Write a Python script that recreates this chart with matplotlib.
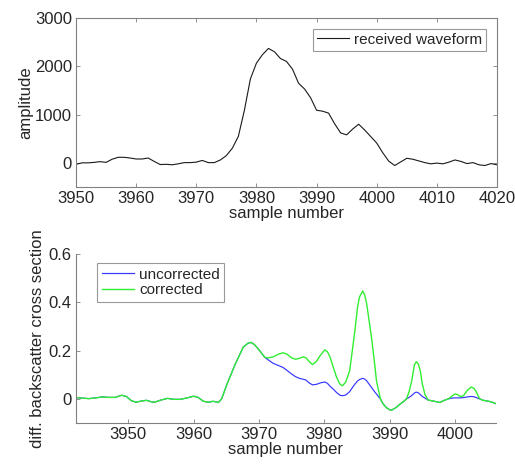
import matplotlib
matplotlib.use("Agg")
import matplotlib.pyplot as plt

plt.rcParams['font.family'] = ['Liberation Sans', 'DejaVu Sans']

# ---- top panel data: received waveform ----
wave_samples = list(range(3950, 4021))
wave_amplitude = [
    -30, 0, 0, 10, 25, 10, 75, 115, 115, 100,
    80, 80, 100, 30, -35, -30, -40, -20, 5, 5,
    15, 50, 5, 5, 60, 150, 305, 550, 1090, 1740,
    2065, 2240, 2370, 2300, 2160, 2100, 1940, 1650, 1530, 1350,
    1090, 1070, 1030, 810, 620, 580, 700, 800, 680, 545,
    410, 210, 35, -55, 20, 95, 75, 40, 5, -20,
    -5, -20, 15, 60, 30, -15, 5, -40, -55, -15,
    -40,
]

# ---- bottom panel data: differential backscatter cross section ----
bsc_samples = [
    3942.0, 3943.0, 3944.0, 3945.0, 3946.0, 3947.0, 3948.0, 3949.0, 3949.7, 3950.5,
    3951.2, 3952.0, 3952.8, 3953.5, 3954.0, 3955.0, 3956.0, 3957.0, 3958.0, 3959.0,
    3960.0, 3960.7, 3961.5, 3962.3, 3963.0, 3963.8, 3964.3, 3965.1, 3966.4, 3967.6,
    3968.3, 3968.8, 3969.3, 3969.9, 3970.9, 3971.5, 3972.2, 3973.0, 3973.7, 3974.3,
    3975.0, 3975.6, 3976.2, 3976.8, 3977.2, 3977.7, 3978.2, 3978.8, 3979.4, 3980.1,
    3980.5, 3980.9, 3981.4, 3981.9, 3982.4, 3982.8, 3983.3, 3983.9, 3984.4, 3984.7,
    3985.1, 3985.4, 3985.9, 3986.2, 3986.5, 3987.0, 3987.3, 3987.7, 3988.0, 3988.6,
    3989.0, 3989.5, 3990.0, 3990.3, 3991.0, 3991.6, 3992.1, 3992.6, 3993.0, 3993.4,
    3993.8, 3994.1, 3994.4, 3994.7, 3995.0, 3995.4, 3995.9, 3996.5, 3997.2, 3997.7,
    3998.4, 3999.0, 3999.5, 4000.0, 4000.4, 4000.8, 4001.3, 4001.9, 4002.5, 4002.9,
    4003.2, 4003.8, 4004.3, 4004.8, 4005.5, 4006.3,
]
corrected = [
    0.005, 0.003, 0.001, 0.004, 0.008, 0.006, 0.006, 0.015, 0.010, -0.008,
    -0.014, -0.009, -0.006, -0.012, -0.014, -0.005, 0.002, -0.002, -0.002, 0.004,
    0.011, 0.006, -0.010, -0.014, -0.010, -0.015, 0.000, 0.060, 0.145, 0.214,
    0.230, 0.234, 0.225, 0.207, 0.172, 0.170, 0.174, 0.185, 0.191, 0.185,
    0.170, 0.164, 0.168, 0.174, 0.170, 0.155, 0.142, 0.155, 0.180, 0.203,
    0.195, 0.172, 0.130, 0.089, 0.061, 0.054, 0.070, 0.117, 0.220, 0.283,
    0.380, 0.422, 0.447, 0.430, 0.394, 0.300, 0.242, 0.150, 0.075, 0.000,
    -0.020, -0.036, -0.045, -0.047, -0.036, -0.022, -0.012, 0.000, 0.030, 0.075,
    0.140, 0.154, 0.145, 0.117, 0.065, 0.020, -0.005, -0.008, -0.012, -0.015,
    -0.006, 0.000, 0.010, 0.020, 0.018, 0.010, 0.012, 0.035, 0.049, 0.044,
    0.033, 0.000, -0.006, -0.008, -0.012, -0.020,
]
uncorrected = [
    0.005, 0.003, 0.001, 0.004, 0.008, 0.006, 0.006, 0.015, 0.010, -0.008,
    -0.014, -0.009, -0.006, -0.012, -0.014, -0.005, 0.002, -0.002, -0.002, 0.004,
    0.011, 0.006, -0.010, -0.014, -0.010, -0.015, 0.000, 0.060, 0.145, 0.214,
    0.230, 0.234, 0.225, 0.207, 0.172, 0.160, 0.147, 0.138, 0.130, 0.118,
    0.103, 0.092, 0.085, 0.081, 0.078, 0.066, 0.058, 0.060, 0.066, 0.070,
    0.064, 0.052, 0.040, 0.026, 0.015, 0.013, 0.016, 0.030, 0.050, 0.061,
    0.074, 0.080, 0.085, 0.082, 0.075, 0.056, 0.045, 0.030, 0.020, 0.000,
    -0.020, -0.036, -0.045, -0.047, -0.036, -0.022, -0.012, 0.000, 0.006, 0.014,
    0.024, 0.028, 0.025, 0.018, 0.010, 0.004, -0.005, -0.008, -0.012, -0.015,
    -0.006, 0.000, 0.003, 0.004, 0.004, 0.004, 0.005, 0.008, 0.010, 0.009,
    0.006, 0.000, -0.006, -0.008, -0.012, -0.020,
]

top_xticks = [3950, 3960, 3970, 3980, 3990, 4000, 4010, 4020]
top_yticks = [0, 1000, 2000, 3000]
bot_xticks = [3950, 3960, 3970, 3980, 3990, 4000]
bot_yticks = [0, 0.2, 0.4, 0.6]

txt = '#262626'
ax_col = '#808080'
FS = 12
LFS = 11

fig = plt.figure(figsize=(5.15, 4.68), dpi=100)

# top axes
ax1 = fig.add_axes([76/515, 1-187/468, 421/515, 169/468])
ax1.plot(wave_samples, wave_amplitude, color='#1a1a1a', lw=0.8, label='received waveform')
ax1.set_xlim(3950, 4020)
ax1.set_ylim(-500, 3000)
ax1.set_xticks(top_xticks)
ax1.set_yticks(top_yticks)
ax1.set_xlabel('sample number', fontsize=FS, color=txt, labelpad=0)
ax1.set_ylabel('amplitude', fontsize=FS, color=txt, labelpad=1)
ax1.tick_params(direction='in', top=True, right=True, labelsize=FS,
                colors=ax_col, labelcolor=txt, length=3, width=0.6, pad=3)
for s in ax1.spines.values():
    s.set_color(ax_col)
    s.set_linewidth(0.8)
leg1 = ax1.legend(loc='upper right', fontsize=LFS, frameon=True, fancybox=False,
                  edgecolor=ax_col, handlelength=2.15, borderaxespad=0.72,
                  borderpad=0.25, handletextpad=0.3)
leg1.get_frame().set_linewidth(0.8)
for t in leg1.get_texts():
    t.set_color(txt)

# bottom axes
ax2 = fig.add_axes([76/515, 1-423/468, 420/515, 169/468])
ax2.plot(bsc_samples, uncorrected, color='#3535ff', lw=0.85, label='uncorrected')
ax2.plot(bsc_samples, corrected, color='#30ee30', lw=1.0, label='corrected')
ax2.set_xlim(3942.0, 4006.3)
ax2.set_ylim(-0.1, 0.6)
ax2.set_xticks(bot_xticks)
ax2.set_yticks(bot_yticks)
ax2.set_yticklabels(['0', '0.2', '0.4', '0.6'])
ax2.set_xlabel('sample number', fontsize=FS, color=txt, labelpad=0)
ax2.set_ylabel('diff. backscatter cross section', fontsize=FS, color=txt, labelpad=3)
ax2.tick_params(direction='in', labelsize=FS, colors=ax_col, labelcolor=txt,
                length=3, width=0.6, pad=3)
ax2.spines['top'].set_visible(False)
ax2.spines['right'].set_visible(False)
for k in ('left', 'bottom'):
    ax2.spines[k].set_color(ax_col)
    ax2.spines[k].set_linewidth(0.8)
leg2 = ax2.legend(loc='upper left', bbox_to_anchor=(21/420, 1-9/169), fontsize=LFS,
                  frameon=True, fancybox=False, edgecolor=ax_col, handlelength=2.15,
                  borderaxespad=0.0, borderpad=0.3, handletextpad=0.3, labelspacing=0.1)
leg2.get_frame().set_linewidth(0.8)
for t in leg2.get_texts():
    t.set_color(txt)

fig.savefig('out.png', dpi=100)
